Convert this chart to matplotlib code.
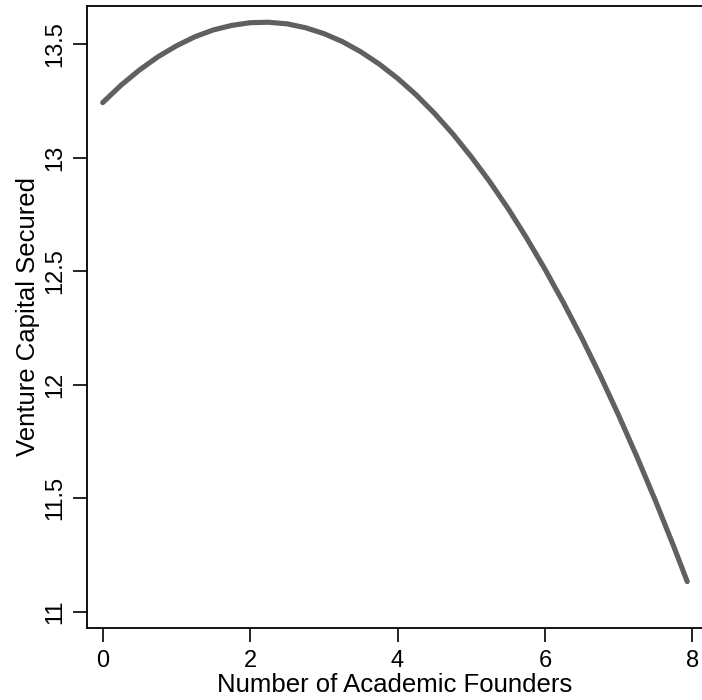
import matplotlib
matplotlib.use("Agg")
import matplotlib.pyplot as plt

# values
founders = [0.0, 0.25, 0.5, 0.75, 1.0, 1.25, 1.5, 1.75, 2.0, 2.25, 2.5, 2.75, 3.0, 3.25,
            3.5, 3.75, 4.0, 4.25, 4.5, 4.75, 5.0, 5.25, 5.5, 5.75, 6.0, 6.25, 6.5, 6.75,
            7.0, 7.25, 7.5, 7.75, 7.93]
capital = [13.243, 13.320, 13.387, 13.445, 13.493, 13.533, 13.563, 13.583, 13.595,
           13.597, 13.590, 13.573, 13.547, 13.512, 13.467, 13.413, 13.350, 13.278,
           13.196, 13.105, 13.004, 12.895, 12.776, 12.647, 12.509, 12.362, 12.206,
           12.040, 11.865, 11.681, 11.488, 11.285, 11.133]

x_ticks = [0, 2, 4, 6, 8]
y_ticks = [11, 11.5, 12, 12.5, 13, 13.5]
y_tick_labels = ["11", "11.5", "12", "12.5", "13", "13.5"]

plt.rcParams['font.family'] = ['Liberation Sans', 'DejaVu Sans']

fig = plt.figure(figsize=(7.02, 7.0), dpi=100)
ax = fig.add_axes([0.1235, 0.1033, 0.8765, 0.8886])

ax.plot(founders, capital, color="#606060", linewidth=3.7,
        solid_capstyle="round", solid_joinstyle="round")

ax.set_xlim(-0.217, 8.13)
ax.set_ylim(10.93, 13.67)
ax.set_xticks(x_ticks)
ax.set_yticks(y_ticks)
ax.set_yticklabels(y_tick_labels, rotation=90, va="center")

ax.tick_params(direction="out", length=10, width=1.2, labelsize=17, colors="black")
ax.tick_params(axis="x", pad=6)
ax.tick_params(axis="y", pad=4.5)
for side in ["left", "bottom", "top"]:
    ax.spines[side].set_linewidth(1.3)
ax.spines["right"].set_visible(False)

ax.set_xlabel("Number of Academic Founders", fontsize=18.5)
ax.set_ylabel("Venture Capital Secured", fontsize=18.5)
ax.xaxis.set_label_coords(0.5, -0.0725)
ax.yaxis.set_label_coords(-0.076, 0.5)

fig.savefig("out.png", dpi=100)
